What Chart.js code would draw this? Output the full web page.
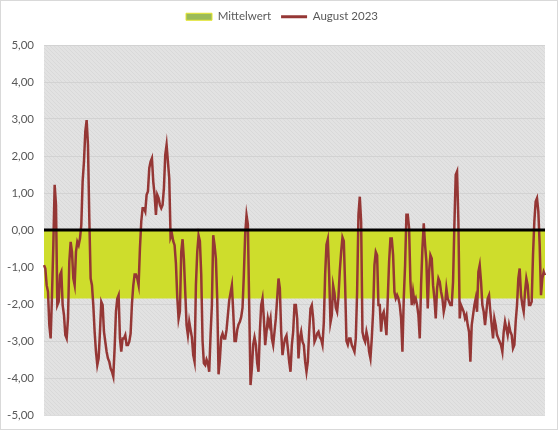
<!DOCTYPE html>
<html>
<head>
<meta charset="utf-8">
<script src="https://cdn.jsdelivr.net/npm/chart.js@4"></script>
<style>
    body { margin: 0; background: #fff; }
    #wrap { width: 556px; height: 428px; border: 1px solid #d9d9d9; }
</style>
</head>
<body>
<div id="wrap"><canvas id="chart"></canvas></div>
<script>
// hourly values for August 2023 in six stretches
const aug1 = [-0.95, -1.04, -1.49, -1.67, -2.57, -2.93, -1.76, -0.41, 1.22, 0.68, -2.03, -1.94, -1.22, -1.13, -2.03, -2.30,
    -2.84, -2.93, -2.39, -0.86, -0.32, -0.59, -1.31, -1.49, -0.59, -0.32, -0.41, -0.23, 0.14, 1.31, 1.85, 2.66, 2.97, 2.30,
    0.32, -1.31, -1.49, -2.03, -2.75, -3.29, -3.65, -3.47, -2.75, -1.94, -2.03, -2.75, -3.02, -3.29, -3.47, -3.56, -3.74,
    -3.83, -3.96, -3.20, -2.21, -1.85, -1.76, -2.93, -3.29, -2.93, -2.93, -2.84, -3.11];
const aug2 = [-3.11, -3.02, -2.8, -2.0, -1.5, -1.2, -1.2, -1.31, -1.49, -0.50, 0.23, 0.59, 0.59, 0.50, 0.95, 1.04, 1.67,
    1.85, 1.94, 1.31, 0.95, 0.41, 0.95, 0.86, 0.68, 0.59, 0.68, 1.13, 2.03, 2.30, 1.85, 1.40, -0.2, -0.1, -0.3, -0.41, -0.9,
    -1.8, -2.4, -2.2, -0.6, -0.25, -0.8, -1.67, -2.57, -2.84, -2.48, -2.7, -2.9, -3.38, -3.56, -1.5, -0.6, -0.15, -0.3, -1.2,
    -3.0, -3.6, -3.65, -3.5, -3.6, -3.83, -2.84];
const aug3 = [-2.03, -0.14, -0.41, -0.77, -1.85, -3.9, -3.5, -2.9, -2.8, -2.93, -2.93, -2.7, -2.3, -1.9, -1.7, -1.5, -2.2,
    -3.0, -3.0, -2.7, -2.55, -2.48, -2.35, -2.1, -1.2, -0.1, 0.40, 0.15, -2.03, -4.19, -3.74, -3.1, -2.9, -3.1, -3.6, -3.83,
    -2.75, -2.03, -1.85, -2.39, -3.11, -2.75, -2.39, -2.57, -2.39, -2.93, -3.11, -2.75, -2.39, -1.85, -1.31, -1.58, -2.75,
    -3.38, -3.11, -2.93, -2.85, -3.2, -3.56, -3.83, -3.11, -2.75, -2.03];
const aug4 = [-2.03, -2.39, -3.47, -2.93, -2.75, -3.02, -3.11, -3.56, -3.83, -3.56, -2.75, -2.12, -2.03, -2.39, -3.02, -2.93,
    -2.8, -2.75, -2.9, -2.95, -3.1, -2.5, -1.2, -0.4, -0.25, -1.2, -2.5, -2.3, -1.5, -1.7, -2.1, -2.21, -1.8, -1.1, -0.6, -0.2,
    -0.3, -1.5, -3.0, -3.1, -2.93, -2.93, -3.11, -3.20, -3.29, -2.93, -1.67, 0.41, 0.90, 0.23, -2.75, -2.93, -3.02, -2.75,
    -2.93, -3.29, -3.47, -2.93, -2.21, -0.95, -0.59, -0.68, -2.03];
const aug5 = [-2.03, -2.75, -2.30, -2.21, -2.48, -2.84, -1.85, -0.86, -0.23, -0.23, -0.68, -1.67, -1.85, -1.76, -1.85, -2.03,
    -2.39, -3.29, -1.85, -0.95, 0.41, 0.41, 0.05, -1.40, -2.03, -1.67, -1.94, -1.85, -2.03, -2.30, -2.93, -1.49, -0.50, 0.18,
    -0.41, -0.86, -2.12, -1.13, -0.68, -0.77, -1.49, -1.85, -2.39, -1.58, -1.31, -1.40, -1.67, -1.85, -2.21, -2.03, -1.58,
    -1.85, -1.94, -2.03, -2.03, -1.40, 0.14, 1.49, 1.58, 0.23, -2.39, -2.03, -2.12];
const aug6 = [-2.21, -2.39, -2.30, -2.57, -2.75, -3.56, -2.57, -2.30, -2.03, -1.85, -2.21, -1.13, -0.95, -1.40, -2.03, -2.21,
    -2.57, -2.21, -1.85, -1.76, -2.21, -2.57, -2.93, -2.39, -2.57, -2.84, -2.93, -3.02, -3.11, -3.29, -2.75, -2.48, -2.66,
    -2.84, -2.57, -2.75, -2.84, -3.20, -3.11, -2.48, -2.03, -1.31, -1.04, -1.76, -2.03, -2.21, -1.67, -1.31, -1.49, -2.03,
    -2.03, -1.94, -0.68, 0.23, 0.77, 0.86, 0.50, -0.41, -1.76, -1.31, -1.13, -1.22];

const august2023 = [...aug1, ...aug2, ...aug3, ...aug4, ...aug5, ...aug6];
const mittelwert = -1.85;
const hours = august2023.map((v, i) => i + 1);
const yTicks = [-5, -4, -3, -2, -1, 0, 1, 2, 3, 4, 5];

// light downward hatch behind the plot
function makeHatch() {
    const c = document.createElement('canvas');
    c.width = 4;
    c.height = 4;
    const g = c.getContext('2d');
    g.fillStyle = '#e2e2e2';
    g.fillRect(0, 0, 4, 4);
    g.fillStyle = '#d9d9d9';
    for (let i = 0; i < 4; i++) g.fillRect(i, i, 1, 1);
    return g.createPattern(c, 'repeat');
}

const plotBackground = {
    id: 'plotBackground',
    beforeDraw(chart) {
        const {ctx, chartArea} = chart;
        ctx.save();
        ctx.fillStyle = makeHatch();
        ctx.fillRect(chartArea.left, chartArea.top, chartArea.right - chartArea.left, chartArea.bottom - chartArea.top);
        ctx.restore();
    }
};

const zeroLine = {
    id: 'zeroLine',
    afterDatasetsDraw(chart) {
        const {ctx, chartArea, scales} = chart;
        const y = scales.y.getPixelForValue(0);
        ctx.save();
        ctx.strokeStyle = '#000';
        ctx.lineWidth = 3;
        ctx.beginPath();
        ctx.moveTo(chartArea.left, y);
        ctx.lineTo(chartArea.right, y);
        ctx.stroke();
        ctx.restore();
    }
};

// fixed legend height, legend nudged a bit to the right
const legendSpace = {
    id: 'legendSpace',
    beforeInit(chart) {
        const legend = chart.legend;
        const fit = legend.fit;
        legend.fit = function () {
            fit.call(this);
            this.height = 44;
        };
        const draw = legend.draw;
        legend.draw = function () {
            this.ctx.save();
            this.ctx.translate(9, 0);
            draw.call(this);
            this.ctx.restore();
        };
    }
};

new Chart(document.getElementById('chart'), {
    type: 'line',
    data: {
        labels: hours,
        datasets: [{
            label: 'Mittelwert',
            data: hours.map(() => mittelwert),
            backgroundColor: 'rgb(206, 221, 44)',
            borderWidth: 0,
            pointRadius: 0,
            fill: 'origin',
            order: 1
        }, {
            label: 'August 2023',
            data: august2023,
            borderColor: '#953735',
            borderWidth: 2.5,
            pointRadius: 0,
            fill: false,
            order: 0
        }]
    },
    options: {
        responsive: true,
        maintainAspectRatio: false,
        animation: false,
        layout: { padding: { top: 0, right: 12, bottom: 14, left: 0 } },
        plugins: {
            tooltip: { enabled: false },
            legend: {
                labels: {
                    usePointStyle: true,
                    pointStyleWidth: 26,
                    boxHeight: 7,
                    padding: 10,
                    color: '#595959',
                    font: { family: 'Lato', size: 11.5 },
                    generateLabels: () => [{
                        text: 'Mittelwert',
                        fillStyle: '#9bbb59',
                        strokeStyle: '#e6e62e',
                        lineWidth: 1,
                        pointStyle: 'rect',
                        fontColor: '#595959',
                        datasetIndex: 0
                    }, {
                        text: 'August 2023',
                        fillStyle: '#953735',
                        strokeStyle: '#953735',
                        lineWidth: 3,
                        pointStyle: 'line',
                        fontColor: '#595959',
                        datasetIndex: 1
                    }]
                }
            }
        },
        scales: {
            x: { display: false, offset: false },
            y: {
                min: -5,
                max: 5,
                afterBuildTicks: s => { s.ticks = yTicks.map(v => ({ value: v })); },
                afterFit: s => {
                    s.width = 43;
                    s.paddingTop = 0;
                    s.paddingBottom = 0;
                },
                ticks: {
                    color: '#595959',
                    font: { family: 'Lato', size: 11.5 },
                    padding: 10,
                    callback: v => v.toFixed(2).replace('.', ',')
                },
                grid: { color: 'rgba(205, 205, 205, 0.7)', drawTicks: false },
                border: { display: false }
            }
        }
    },
    plugins: [plotBackground, zeroLine, legendSpace]
});
</script>
</body>
</html>
